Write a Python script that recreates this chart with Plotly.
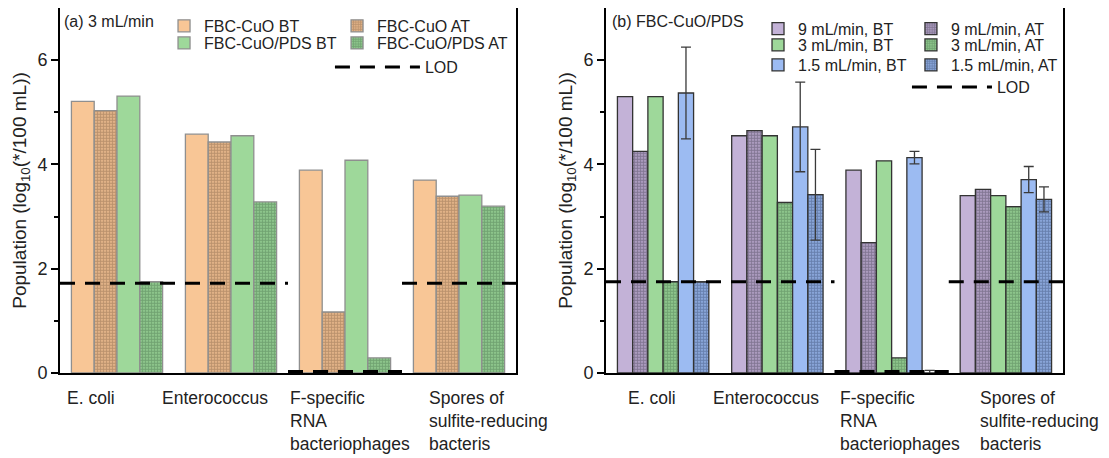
import plotly.graph_objects as go

# ---------------- data ----------------
categories = ["E. coli", "Enterococcus", "F-specific<br>RNA<br>bacteriophages",
              "Spores of<br>sulfite-reducing<br>bacteris"]
x_pos = [0, 1, 2, 3]

# panel (a): 3 mL/min
a_cuo_bt = [5.21, 4.58, 3.89, 3.70]
a_cuo_at = [5.03, 4.43, 1.17, 3.39]
a_pds_bt = [5.31, 4.55, 4.08, 3.41]
a_pds_at = [1.75, 3.28, 0.29, 3.20]
a_lod = [1.72, 1.72, 0.03, 1.72]

# panel (b): FBC-CuO/PDS at different flow rates
b_9_bt = [5.30, 4.55, 3.89, 3.40]
b_9_at = [4.25, 4.65, 2.50, 3.52]
b_3_bt = [5.30, 4.55, 4.07, 3.40]
b_3_at = [1.75, 3.27, 0.29, 3.19]
b_15_bt = [5.37, 4.72, 4.13, 3.71]
b_15_bt_err = [0.88, 0.86, 0.12, 0.25]
b_15_at = [1.75, 3.42, 0.0, 3.33]
b_15_at_err = [None, 0.87, 0.05, 0.24]
b_lod = [1.75, 1.75, 0.03, 1.75]

# ---------------- styles ----------------
FONT = "Arial, Liberation Sans, sans-serif"
PEACH, PEACH_D = "#F8C696", "#7E5E44"
GREEN, GREEN_D = "#9ED89A", "#44704A"
PURPLE, PURPLE_D = "#C3B2D7", "#433B52"
BLUE, BLUE_D = "#9CBBF2", "#34466A"


def lod_xy(vals):
    xs, ys, prev = [], [], None
    for i, v in enumerate(vals):
        if prev is not None and v == prev:
            xs[-1] = i + 0.5
        else:
            if xs:
                xs.append(None)
                ys.append(None)
            xs += [i - 0.5, i + 0.5]
            ys += [v, v]
        prev = v
    return xs, ys


def bar(name, y, color, line_color, xa, ya, legend, fg=None, err=None):
    marker = dict(color=color, line=dict(color=line_color, width=1.3))
    if fg is not None:
        marker["pattern"] = dict(shape=".", fgcolor=fg, bgcolor=color,
                                 size=3, solidity=0.7)
    kw = {}
    if err is not None:
        kw["error_y"] = dict(type="data", array=err, visible=True,
                             color="#3a3a3a", thickness=1.3, width=5)
    return go.Bar(name=name, x=x_pos, y=y, marker=marker, xaxis=xa,
                  yaxis=ya, legend=legend, **kw)


fig = go.Figure()
GA = "#8f8f8f"
fig.add_trace(bar("FBC-CuO BT", a_cuo_bt, PEACH, GA, "x", "y", "legend"))
fig.add_trace(bar("FBC-CuO AT", a_cuo_at, PEACH, GA, "x", "y", "legend2", PEACH_D))
fig.add_trace(bar("FBC-CuO/PDS BT", a_pds_bt, GREEN, GA, "x", "y", "legend3"))
fig.add_trace(bar("FBC-CuO/PDS AT", a_pds_at, GREEN, GA, "x", "y", "legend4", GREEN_D))
lx, ly = lod_xy(a_lod)
fig.add_trace(go.Scatter(name="LOD", x=lx, y=ly, mode="lines", xaxis="x", yaxis="y",
                         line=dict(color="black", width=3, dash="15px,10px"),
                         legend="legend5"))

GB = "#333333"
fig.add_trace(bar("9 mL/min, BT", b_9_bt, PURPLE, GB, "x2", "y2", "legend6"))
fig.add_trace(bar("9 mL/min, AT", b_9_at, PURPLE, GB, "x2", "y2", "legend7", PURPLE_D))
fig.add_trace(bar("3 mL/min, BT", b_3_bt, GREEN, GB, "x2", "y2", "legend8"))
fig.add_trace(bar("3 mL/min, AT", b_3_at, GREEN, GB, "x2", "y2", "legend9", GREEN_D))
fig.add_trace(bar("1.5 mL/min, BT", b_15_bt, BLUE, GB, "x2", "y2", "legend10", err=b_15_bt_err))
fig.add_trace(bar("1.5 mL/min, AT", b_15_at, BLUE, GB, "x2", "y2", "legend11", BLUE_D, err=b_15_at_err))
lx, ly = lod_xy(b_lod)
fig.add_trace(go.Scatter(name="LOD", x=lx, y=ly, mode="lines", xaxis="x2", yaxis="y2",
                         line=dict(color="black", width=3, dash="15px,10px"),
                         legend="legend12"))

# ---------------- axes ----------------
ytitle = "Population (log<sub>10</sub>(*/100 mL))"
xcommon = dict(range=[-0.5, 3.5], showticklabels=False, ticks="", showline=True,
               mirror=True, linecolor="black", linewidth=2, zeroline=False,
               showgrid=False, fixedrange=True)
ycommon = dict(range=[0, 7], tickvals=[0, 2, 4, 6], ticks="outside", ticklen=7,
               tickwidth=1.5, tickcolor="black",
               minor=dict(tickvals=[1, 3, 5], ticks="outside", ticklen=4,
                          tickwidth=1.5, tickcolor="black"),
               showline=True, mirror=True, linecolor="black", linewidth=2,
               showgrid=False, zeroline=False,
               tickfont=dict(size=18, color="#222"),
               title=dict(text=ytitle, font=dict(size=19, color="#222"), standoff=6))

leg = dict(bgcolor="rgba(0,0,0,0)", font=dict(size=16, family=FONT, color="#222"),
           xanchor="left", yanchor="middle", tracegroupgap=0, itemclick=False,
           visible=True)

# legend placement (x, y-centre, itemwidth) for each legend entry
legend_pos = {
    "legend": (0.1407, 0.951, 30), "legend3": (0.1407, 0.9041, 30),
    "legend2": (0.2967, 0.951, 30), "legend4": (0.2967, 0.9041, 30),
    "legend5": (0.2903, 0.8384, 85),
    "legend6": (0.6763, 0.943, 30), "legend8": (0.6763, 0.8986, 30),
    "legend10": (0.6763, 0.8438, 30),
    "legend7": (0.8142, 0.943, 30), "legend9": (0.8142, 0.8986, 30),
    "legend11": (0.8142, 0.8438, 30),
    "legend12": (0.8106, 0.7836, 80),
}
legend_layout = {k: dict(x=v[0], y=v[1], itemwidth=v[2], **leg)
                 for k, v in legend_pos.items()}

fig.update_layout(
    width=1109, height=458, showlegend=True,
    margin=dict(l=0, r=0, t=0, b=93, autoexpand=False),
    paper_bgcolor="white", plot_bgcolor="white",
    font=dict(family=FONT, color="#222"),
    barmode="group", bargap=0.2, bargroupgap=0,
    xaxis=dict(domain=[0.04689, 0.45807], anchor="y", **xcommon),
    yaxis=dict(domain=[0, 1], anchor="x", **ycommon),
    xaxis2=dict(domain=[0.53922, 0.95131], anchor="y2", **xcommon),
    yaxis2=dict(domain=[0, 1], anchor="x2", **ycommon),
    **legend_layout,
)

# panel labels
fig.add_annotation(text="(a) 3 mL/min", xref="paper", yref="paper", x=0.0487, y=0.964,
                   xanchor="left", yanchor="middle", showarrow=False,
                   font=dict(size=16, color="#222"))
fig.add_annotation(text="(b) FBC-CuO/PDS", xref="paper", yref="paper", x=0.5428, y=0.964,
                   xanchor="left", yanchor="middle", showarrow=False,
                   font=dict(size=16, color="#222"))

# category labels (left-aligned blocks under each group)
label_shift_a = [-52, -71, -57, -32]
label_shift_b = [-37, -66, -54, -28]
for xr, shifts in (("x", label_shift_a), ("x2", label_shift_b)):
    for xi, cat, sh in zip(x_pos, categories, shifts):
        fig.add_annotation(text=cat, xref=xr, yref="paper", x=xi, y=0,
                           xanchor="left", yanchor="top", xshift=sh, yshift=-13,
                           align="left", showarrow=False,
                           font=dict(size=17.5, color="#222"))

fig.write_html("out.html")
